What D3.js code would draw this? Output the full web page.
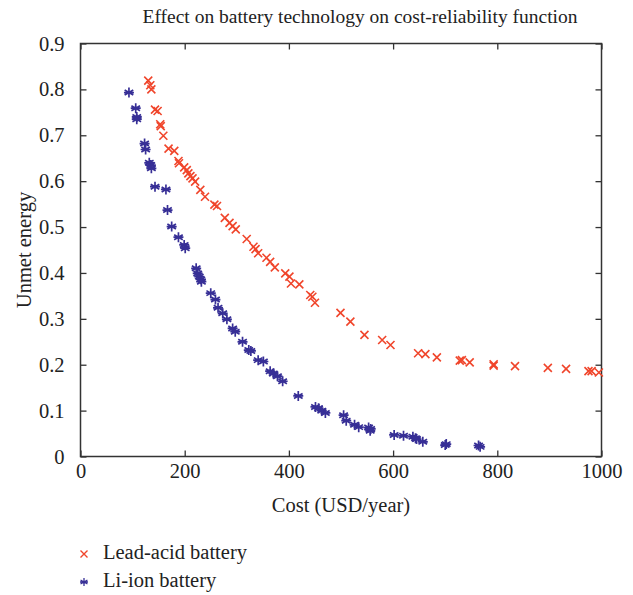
<!DOCTYPE html>
<html>
<head>
<meta charset="utf-8">
<script src="https://cdn.jsdelivr.net/npm/d3@7"></script>
<style>
  body { margin: 0; background: #fff; }
  text { font-family: "Liberation Serif", "DejaVu Serif", serif; fill: #222; }
</style>
</head>
<body>
<svg id="svg1" width="633" height="595"></svg>
<script>
// Lead-acid battery: cost (USD/year) and unmet energy
var leadCost = [130, 134, 136, 143, 148, 153, 154, 159, 169, 180, 188, 189, 199, 204, 207, 211, 215, 220,
  230, 239, 257, 262, 277, 286, 292, 298, 319, 332, 336, 341, 357, 364, 373, 393, 401, 404, 420, 441, 445,
  450, 499, 518, 545, 579, 595, 648, 662, 684, 728, 732, 747, 793, 793, 834, 897, 932, 975, 981, 995];
var leadUnmet = [0.819, 0.809, 0.800, 0.756, 0.753, 0.724, 0.720, 0.699, 0.671, 0.666, 0.644, 0.639, 0.630,
  0.624, 0.617, 0.611, 0.606, 0.599, 0.581, 0.566, 0.549, 0.546, 0.520, 0.509, 0.502, 0.495, 0.474, 0.457,
  0.452, 0.443, 0.433, 0.424, 0.412, 0.399, 0.392, 0.377, 0.375, 0.352, 0.348, 0.335, 0.313, 0.294, 0.265,
  0.254, 0.243, 0.225, 0.223, 0.216, 0.209, 0.210, 0.205, 0.201, 0.198, 0.197, 0.193, 0.191, 0.186, 0.186, 0.183];

// Li-ion battery
var liCost = [93, 106, 108, 108, 123, 125, 132, 135, 136, 143, 164, 167, 175, 188, 199, 201, 222, 225, 228,
  231, 232, 250, 259, 264, 273, 281, 292, 297, 311, 323, 327, 341, 351, 364, 370, 378, 388, 418, 451, 457,
  463, 470, 505, 510, 526, 534, 553, 556, 557, 602, 620, 638, 643, 645, 657, 700, 702, 764, 767];
var liUnmet = [0.793, 0.759, 0.740, 0.735, 0.682, 0.669, 0.640, 0.635, 0.628, 0.588, 0.582, 0.537, 0.501,
  0.478, 0.461, 0.454, 0.410, 0.399, 0.392, 0.386, 0.381, 0.356, 0.342, 0.324, 0.312, 0.299, 0.279, 0.272,
  0.250, 0.232, 0.230, 0.210, 0.207, 0.186, 0.181, 0.175, 0.164, 0.132, 0.108, 0.105, 0.100, 0.095, 0.090,
  0.078, 0.069, 0.064, 0.063, 0.056, 0.060, 0.047, 0.045, 0.043, 0.040, 0.038, 0.032, 0.025, 0.027, 0.024, 0.021];

var xTicks = [0, 200, 400, 600, 800, 1000];
var yTicks = [0, 0.1, 0.2, 0.3, 0.4, 0.5, 0.6, 0.7, 0.8, 0.9];

var redColor = '#f0452b';
var blueColor = '#372f96';

var svg = d3.select('#svg1');

var padding = {t: 43.5, r: 31.5, b: 138.5, l: 80.5};
var chartWidth = 633 - padding.l - padding.r;
var chartHeight = 595 - padding.t - padding.b;

var xScale = d3.scaleLinear().domain([0, 1000]).range([0, chartWidth]);
var yScale = d3.scaleLinear().domain([0, 0.9]).range([chartHeight, 0]);

var chart = svg.append('g')
  .attr('transform', 'translate(' + [padding.l, padding.t] + ')');

// axes with inward ticks on all four sides
function styleAxis(g) {
  g.select('.domain').remove();
  g.selectAll('.tick line').attr('stroke', '#333').attr('stroke-width', 1.3);
  g.selectAll('.tick text').style('font-size', '20.5px').attr('fill', '#222')
    .attr('font-family', '"Liberation Serif", serif');
}

chart.append('g')
  .attr('transform', 'translate(0,' + chartHeight + ')')
  .call(d3.axisBottom(xScale).tickValues(xTicks).tickSizeInner(-6).tickSizeOuter(0).tickPadding(7).tickFormat(d3.format('d')))
  .call(styleAxis);

chart.append('g')
  .call(d3.axisTop(xScale).tickValues(xTicks).tickSizeInner(-6).tickSizeOuter(0).tickFormat(''))
  .call(styleAxis);

chart.append('g')
  .call(d3.axisLeft(yScale).tickValues(yTicks).tickSizeInner(-6).tickSizeOuter(0).tickPadding(16)
    .tickFormat(function(d) { return d === 0 ? '0' : d3.format('.1f')(d); }))
  .call(styleAxis);

chart.append('g')
  .attr('transform', 'translate(' + chartWidth + ',0)')
  .call(d3.axisRight(yScale).tickValues(yTicks).tickSizeInner(-6).tickSizeOuter(0).tickFormat(''))
  .call(styleAxis);

chart.append('rect')
  .attr('width', chartWidth)
  .attr('height', chartHeight)
  .attr('fill', 'none')
  .attr('stroke', '#333')
  .attr('stroke-width', 1.5);

var leadData = leadCost.map(function(c, i) { return {x: c, y: leadUnmet[i]}; });
var liData = liCost.map(function(c, i) { return {x: c, y: liUnmet[i]}; });

var crossPath = 'M-4,-4L4,4M-4,4L4,-4';
var starPath = 'M0,-5L0,5M-4.3,-2.5L4.3,2.5M-4.3,2.5L4.3,-2.5M-5,0L5,0';

chart.selectAll('.li')
  .data(liData)
  .enter()
  .append('path')
  .attr('class', 'li')
  .attr('d', starPath)
  .attr('transform', function(d) { return 'translate(' + [xScale(d.x), yScale(d.y)] + ')'; })
  .attr('stroke', blueColor)
  .attr('stroke-width', 1.7)
  .attr('fill', 'none');

chart.selectAll('.lead')
  .data(leadData)
  .enter()
  .append('path')
  .attr('class', 'lead')
  .attr('d', crossPath)
  .attr('transform', function(d) { return 'translate(' + [xScale(d.x), yScale(d.y)] + ')'; })
  .attr('stroke', redColor)
  .attr('stroke-width', 1.6)
  .attr('fill', 'none');

svg.append('text')
  .attr('x', 360)
  .attr('y', 23)
  .attr('text-anchor', 'middle')
  .style('font-size', '19.5px')
  .text('Effect on battery technology on cost-reliability function');

svg.append('text')
  .attr('x', 341)
  .attr('y', 512)
  .attr('text-anchor', 'middle')
  .style('font-size', '20.5px')
  .text('Cost (USD/year)');

svg.append('text')
  .attr('transform', 'translate(' + [31, 250] + ') rotate(-90)')
  .attr('text-anchor', 'middle')
  .style('font-size', '20.5px')
  .text('Unmet energy');

// legend
var legend = svg.append('g').attr('transform', 'translate(84,0)');
legend.append('path')
  .attr('d', 'M-3.5,-3.5L3.5,3.5M-3.5,3.5L3.5,-3.5')
  .attr('transform', 'translate(0,554)')
  .attr('stroke', redColor).attr('stroke-width', 1.4);
legend.append('text').attr('x', 19).attr('y', 559).style('font-size', '20.5px').text('Lead-acid battery');
legend.append('path')
  .attr('d', starPath)
  .attr('transform', 'translate(0,582) scale(0.8)')
  .attr('stroke', blueColor).attr('stroke-width', 1.6);
legend.append('text').attr('x', 19).attr('y', 587).style('font-size', '20.5px').text('Li-ion battery');
</script>
</body>
</html>
